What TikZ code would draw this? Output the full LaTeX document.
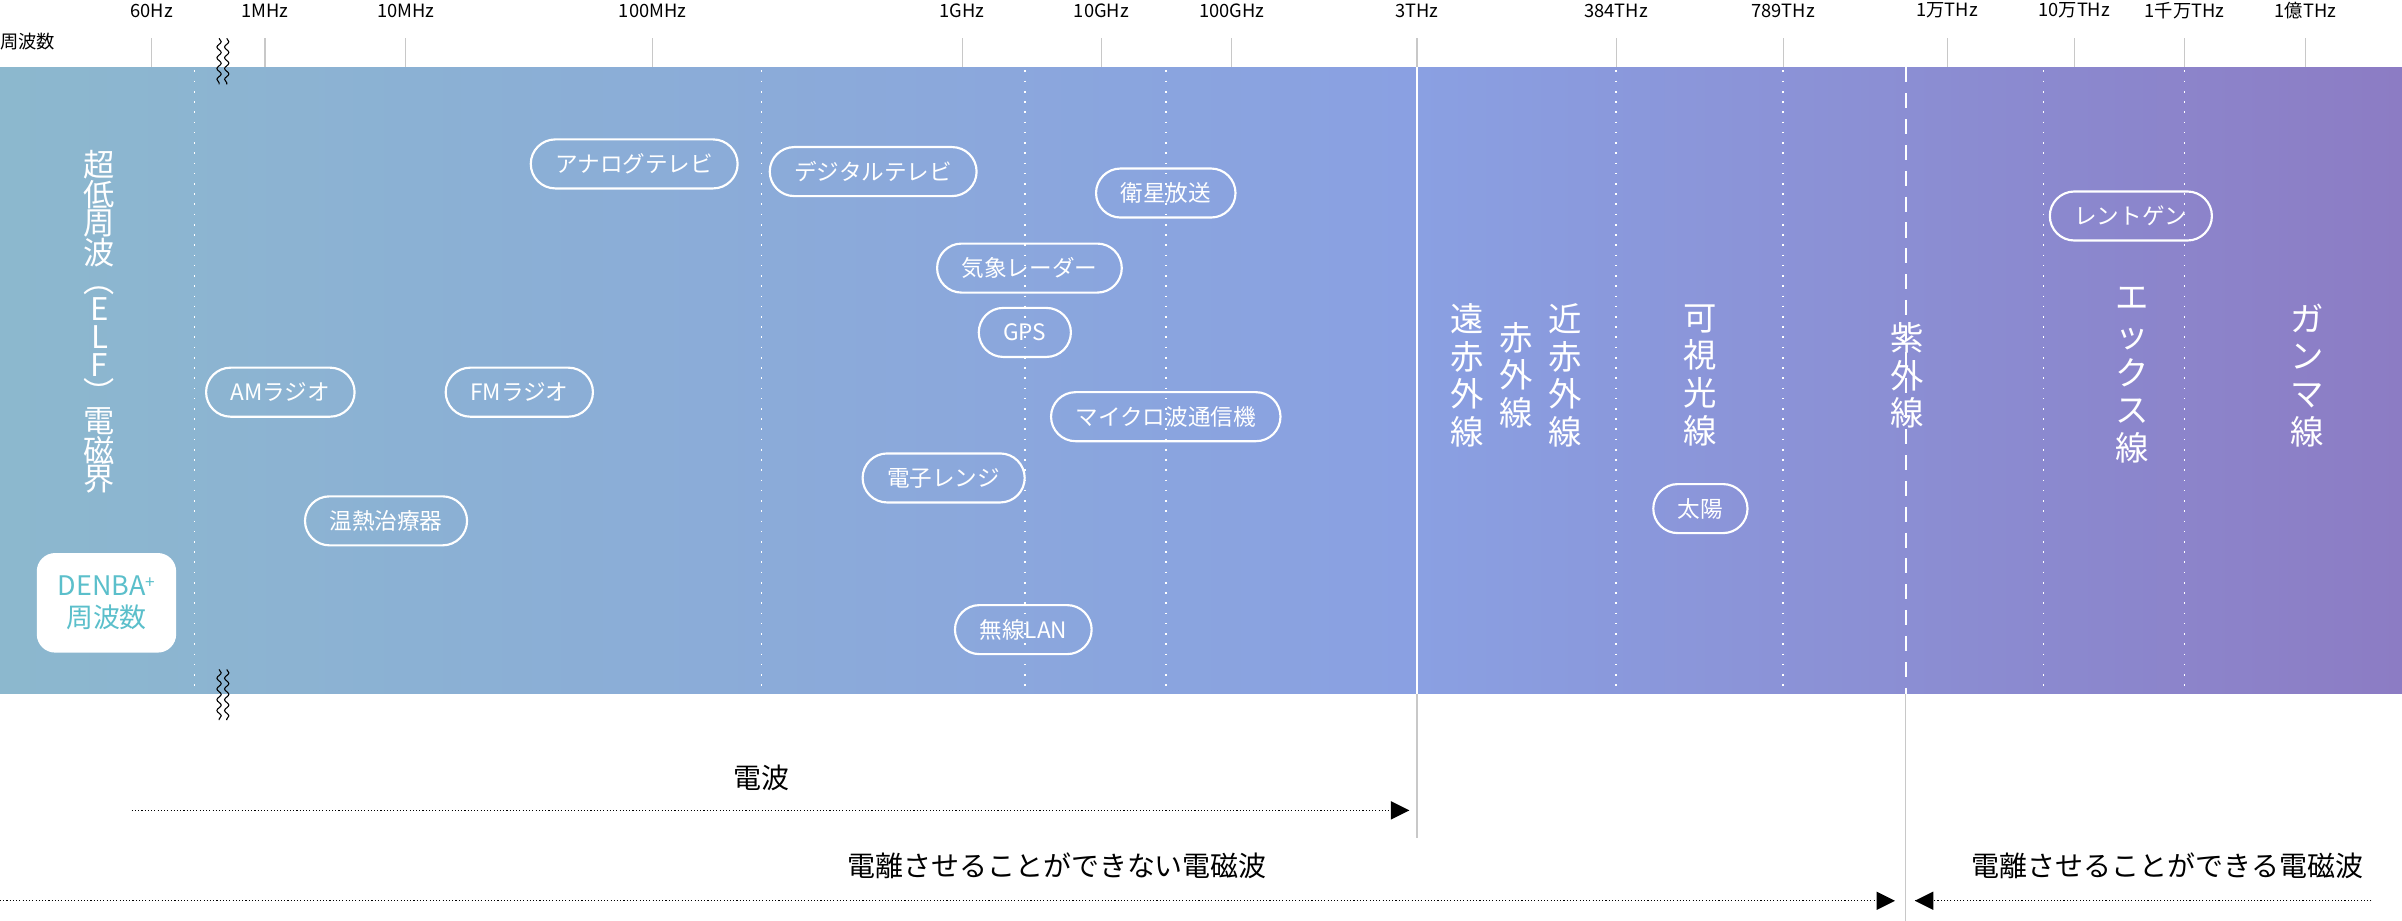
\documentclass[tikz,border=0pt]{standalone}
\usepackage{fontspec}
\setmainfont{Noto Sans CJK JP}
\usetikzlibrary{decorations.pathmorphing}
\definecolor{bandA}{RGB}{140,184,206}
\definecolor{bandB}{RGB}{138,160,226}
\definecolor{bandC}{RGB}{140,124,196}
\definecolor{denba}{RGB}{91,191,203}
\definecolor{tickgray}{RGB}{200,200,200}
\tikzset{
  pill/.style={draw=white, line width=2pt, rounded corners=0.8cm, minimum height=1.6cm,
    inner xsep=0.8cm, text=white, font=\fontsize{21}{25}\selectfont},
  vtext/.style={text=white, align=center, font=\fontsize{31}{35}\selectfont, inner sep=0pt},
  ticklabel/.style={font=\fontsize{17}{20}\selectfont, inner sep=0pt},
  rangelabel/.style={font=\fontsize{26}{30}\selectfont},
  wave/.style={decorate, decoration={snake, amplitude=2pt, segment length=10pt}, line width=1pt}
}
\begin{document}
\begin{tikzpicture}[x=0.05cm, y=-0.05cm]
  \useasboundingbox (0,0) rectangle (1568,601);
  % Band
  \shade[left color=bandA, right color=bandB] (0,44) rectangle (925,453);
  \shade[left color=bandB, right color=bandC] (925,44) rectangle (1568,453);

  % Frequency ticks
  \node[ticklabel, anchor=west] (freq) at (0,27) {周波数};
  \foreach \x/\t in {99/60Hz, 173/1MHz, 265/10MHz, 426/100MHz, 628/1GHz, 719/10GHz,
      804/100GHz, 925/3THz, 1055/384THz, 1164/789THz, 1271/1万THz, 1354/10万THz,
      1426/1千万THz, 1505/1億THz} {
    \draw[tickgray, line width=1pt] (\x,25) -- (\x,44);
    \node[ticklabel] at (\x,7) {\t};
  }

  % Dividers inside the band
  \foreach \x in {127, 497, 669, 761, 1055, 1164, 1334, 1426}
    \draw[white, line width=1.5pt, dash pattern=on 1.5pt off 8pt] (\x,46) -- (\x,453);
  \draw[white, line width=1.5pt] (925,44) -- (925,453);
  \draw[tickgray, line width=1pt] (925,453) -- (925,547);
  \draw[white, line width=1.5pt, dash pattern=on 14pt off 10pt] (1244,44) -- (1244,453);
  \draw[tickgray, line width=1pt] (1244,453) -- (1244,601);

  % Breaks
  \draw[wave] (143,25) -- (143,55);
  \draw[wave] (148,25) -- (148,55);
  \draw[wave] (143,437) -- (143,470);
  \draw[wave] (148,437) -- (148,470);

  % Sources
  \node[pill] (analog) at (414,107) {アナログテレビ};
  \node[pill] (digital) at (570,112) {デジタルテレビ};
  \node[pill] (sat) at (761,126) {衛星放送};
  \node[pill] (radar) at (672,175) {気象レーダー};
  \node[pill] (gps) at (669,217) {GPS};
  \node[pill] (am) at (183,256) {AMラジオ};
  \node[pill] (fm) at (339,256) {FMラジオ};
  \node[pill] (micro) at (761,272) {マイクロ波通信機};
  \node[pill] (oven) at (616,312) {電子レンジ};
  \node[pill] (therm) at (252,340) {温熱治療器};
  \node[pill] (lan) at (668,411) {無線LAN};
  \node[pill] (xray) at (1391,141) {レントゲン};
  \node[pill] (sun) at (1110,332) {太陽};

  % Band names
  \node[vtext, font=\fontsize{29}{26}\selectfont] (elf) at (65,210)
    {超\\低\\周\\波\\︵\\E\\L\\F\\︶\\電\\磁\\界};
  \node[vtext] (far) at (958,245) {遠\\赤\\外\\線};
  \node[vtext] (ir) at (990,245) {赤\\外\\線};
  \node[vtext] (nir) at (1022,245) {近\\赤\\外\\線};
  \node[vtext] (vis) at (1110,245) {可\\視\\光\\線};
  \node[vtext] (uv) at (1245,245) {紫\\外\\線};
  \node[vtext] (xr) at (1392,245) {エ\\ッ\\ク\\ス\\線};
  \node[vtext] (gamma) at (1506,245) {ガ\\ン\\マ\\線};

  % DENBA+
  \node[fill=white, rounded corners=0.6cm, minimum width=4.55cm, minimum height=3.25cm,
    align=center, text=denba, font=\fontsize{25}{30}\selectfont] (denba) at (69.5,393.5)
    {DENBA\raisebox{0.5ex}{\fontsize{16}{16}\selectfont+}\\周波数};

  % Ranges
  \node[rangelabel] (radio) at (497,508) {電波};
  \coordinate (r0) at (86,529);
  \coordinate (r1) at (920,529);
  \draw[line width=1pt, dotted] (r0) -- (r1);
  \fill (r1) -- ++(-12,-6) -- ++(0,12) -- cycle;

  \node[rangelabel] (noion) at (690,565) {電離させることができない電磁波};
  \coordinate (n0) at (0,588);
  \coordinate (n1) at (1237,588);
  \draw[line width=1pt, dotted] (n0) -- (n1);
  \fill (n1) -- ++(-12,-6) -- ++(0,12) -- cycle;

  \node[rangelabel] (ion) at (1415,565) {電離させることができる電磁波};
  \coordinate (i0) at (1548,588);
  \coordinate (i1) at (1250,588);
  \draw[line width=1pt, dotted] (i0) -- (i1);
  \fill (i1) -- ++(12,-6) -- ++(0,12) -- cycle;
\end{tikzpicture}
\end{document}
